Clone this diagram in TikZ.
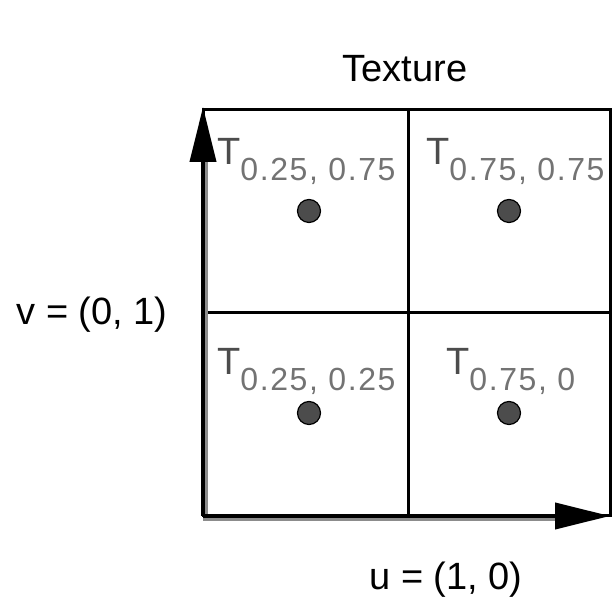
\documentclass[tikz,border=0pt]{standalone}
\usepackage{fontspec}
\setmainfont{Liberation Sans}
\usetikzlibrary{arrows.meta}

\newcommand{\bigfont}{\fontsize{38bp}{42bp}\selectfont}
\newcommand{\subfont}{\fontsize{32bp}{34bp}\selectfont\addfontfeature{LetterSpace=5}}
\newcommand{\texel}[1]{T\raisebox{-16bp}{\subfont\color{black!55}#1}}

\begin{document}
\begin{tikzpicture}[
        x=1bp, y=1bp,
        grid/.style={line width=3bp},
        axis/.style={line width=4bp, -{Triangle[length=55bp,width=26bp]}},
        shadow/.style={draw=black!45, line width=6bp},
        dot/.style={circle, draw=black, line width=1.2bp, fill=black!70, minimum size=23bp, inner sep=0},
        cell/.style={anchor=base west, inner sep=0, font=\bigfont, text=black!70},
        label/.style={anchor=base, inner sep=0, font=\bigfont}
      ]
      \useasboundingbox (0,0) rectangle (613,601);

      \coordinate (origin) at (203,85);
      \coordinate (corner) at (610,491);
      \coordinate (mid) at (408,288);

      \draw[grid] (origin) rectangle (corner);
      \draw[grid] (mid |- origin) -- (mid |- corner);
      \draw[grid] (origin |- mid) -- (corner |- mid);

      \coordinate (vtip) at (203,494);
      \coordinate (utip) at (610,85);
      \draw[shadow] ([xshift=2bp]origin) -- ([xshift=2bp,yshift=-50bp]vtip);
      \draw[shadow] ([yshift=-2bp]origin) -- ([xshift=-50bp,yshift=-2bp]utip);
      \draw[axis] (origin) -- (vtip);
      \draw[axis] (origin) -- (utip);

      \node[label] (texture) at (405,519) {Texture};
      \node[label] (vlabel) at (92,276) {v = (0, 1)};
      \node[label] (ulabel) at (446,11) {u = (1, 0)};

      \node[cell] (cellTL) at (217,436) {\texel{0.25, 0.75}};
      \node[cell] (cellTR) at (426,436) {\texel{0.75, 0.75}};
      \node[cell] (cellBL) at (217,226) {\texel{0.25, 0.25}};
      \node[cell] (cellBR) at (446,226) {\texel{0.75, 0}};

      \node[dot] (dotTL) at (309,390) {};
      \node[dot] (dotTR) at (509,390) {};
      \node[dot] (dotBL) at (309,188) {};
      \node[dot] (dotBR) at (509,188) {};

    \end{tikzpicture}
\end{document}
